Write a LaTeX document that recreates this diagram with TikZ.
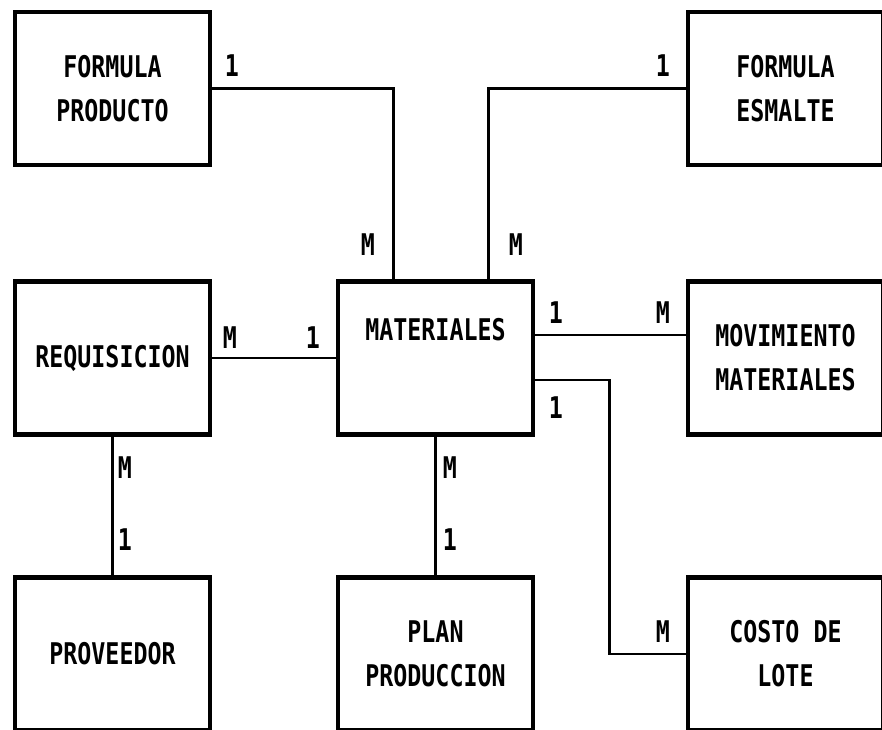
\documentclass[tikz,border=0pt]{standalone}
\usepackage{fontspec}
\newfontfamily\erfont[FakeStretch=0.78]{DejaVu Sans Mono}
\usetikzlibrary{calc,positioning}

\tikzset{
  entidad/.style={draw, line width=1.4pt, minimum width=1.95cm,
    minimum height=1.53cm, align=center,
    font=\erfont\bfseries\fontsize{8.5}{12.5}\selectfont},
  card/.style={inner sep=0pt, font=\erfont\bfseries\fontsize{8.5}{10}\selectfont},
  rel/.style={line width=0.75pt}
}

\begin{document}
\begin{tikzpicture}
\clip (0, 0) rectangle (8.82, 7.29);
\fill[white] (0, 0) rectangle (8.82, 7.29);

% entidades
\node[entidad] (fp) at (1.125, 6.405) {FORMULA\\PRODUCTO};
\node[entidad] (fe) at (7.855, 6.405) {FORMULA\\ESMALTE};
\node[entidad] (req) at (1.125, 3.71) {REQUISICION};
\node[entidad] (mat) at (4.355, 3.71) {MATERIALES\\\strut};
\node[entidad] (mov) at (7.855, 3.71) {MOVIMIENTO\\MATERIALES};
\node[entidad] (prov) at (1.125, 0.75) {PROVEEDOR};
\node[entidad] (plan) at (4.355, 0.75) {PLAN\\PRODUCCION};
\node[entidad] (costo) at (7.855, 0.75) {COSTO DE\\LOTE};

% relaciones
\draw[rel] (fp.east) -| ([xshift=0.58cm]mat.north west);
\draw[rel] (fe.west) -| ([xshift=-0.47cm]mat.north east);
\draw[rel] (req.east) -- (mat.west);
\draw[rel] ([yshift=0.23cm]mat.east) -- ([yshift=0.23cm]mov.west);
\draw[rel] ([yshift=-0.22cm]mat.east) -| ([xshift=-0.76cm]costo.west)
      -- (costo.west);
\draw[rel] (req.south) -- (prov.north);
\draw[rel] (mat.south) -- (plan.north);

% cardinalidades
\node[card] (c1) at (2.32, 6.63) {1};
\node[card] (c2) at (3.68, 4.84) {M};
\node[card] (c3) at (6.63, 6.63) {1};
\node[card] (c4) at (5.16, 4.84) {M};
\node[card] (c5) at (2.30, 3.91) {M};
\node[card] (c6) at (3.13, 3.91) {1};
\node[card] (c7) at (5.56, 4.16) {1};
\node[card] (c8) at (6.63, 4.16) {M};
\node[card] (c9) at (5.56, 3.21) {1};
\node[card] (c10) at (6.63, 0.97) {M};
\node[card] (c11) at (1.25, 2.61) {M};
\node[card] (c12) at (1.25, 1.89) {1};
\node[card] (c13) at (4.50, 2.61) {M};
\node[card] (c14) at (4.50, 1.89) {1};
\end{tikzpicture}
\end{document}
